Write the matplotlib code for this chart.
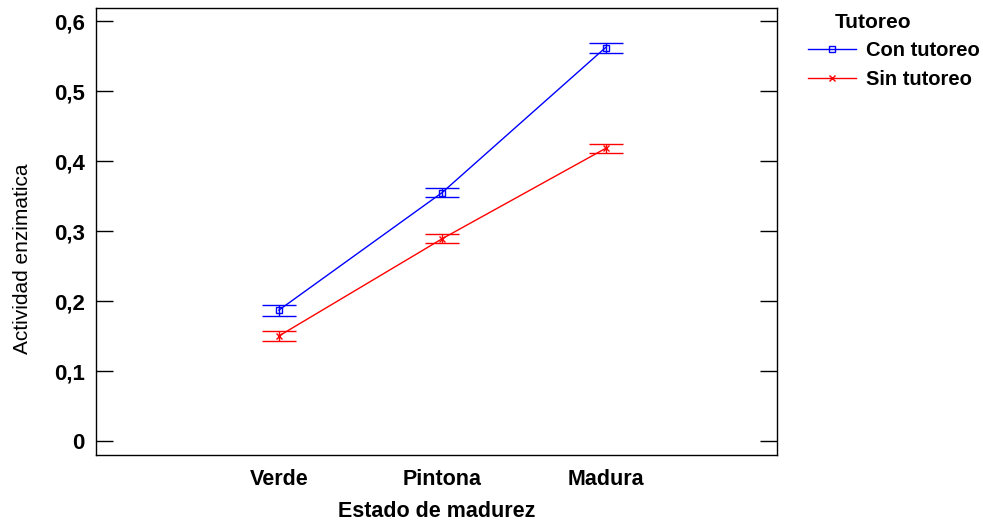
import matplotlib
matplotlib.use("Agg")
import matplotlib.pyplot as plt
from matplotlib.lines import Line2D
from matplotlib import font_manager

names = {f.name for f in font_manager.fontManager.ttflist}
narrow = "Liberation Sans Narrow" if "Liberation Sans Narrow" in names else "Liberation Sans"
plt.rcParams['font.family'] = [narrow, 'DejaVu Sans']

categories = ["Verde", "Pintona", "Madura"]
con_vals = [0.187, 0.355, 0.562]
con_err = [0.008, 0.007, 0.007]
sin_vals = [0.150, 0.289, 0.418]
sin_err = [0.0065, 0.0065, 0.0065]
yticks = [0, 0.1, 0.2, 0.3, 0.4, 0.5, 0.6]
ytick_labels = ["0", "0,1", "0,2", "0,3", "0,4", "0,5", "0,6"]

fig = plt.figure(figsize=(9.83, 5.22), dpi=100)
ax = fig.add_axes([96/983, 1-455/522, (777-96)/983, (455-8)/522])

x = [1, 2, 3]
ax.errorbar(x, con_vals, yerr=con_err, color="#0000ff", lw=1.0, marker="s", ms=4,
            mfc="none", mec="#0000ff", capsize=12, elinewidth=1.0, capthick=1.0)
ax.errorbar(x, sin_vals, yerr=sin_err, color="#ff0000", lw=1.0, marker="x", ms=5,
            capsize=12, elinewidth=1.0, capthick=1.0)

ax.set_xlim(-0.12, 4.05)
ax.set_ylim(-0.02, 0.6186)
ax.set_xticks(x)
ax.set_xticklabels(categories, fontsize=15.5, fontweight="bold")
ax.set_yticks(yticks)
ax.set_yticklabels(ytick_labels, fontsize=16, fontweight="bold")
ax.tick_params(axis="y", direction="in", length=12, width=1, left=True, right=True, pad=8)
ax.tick_params(axis="x", length=0, pad=10)
for s in ax.spines.values():
    s.set_linewidth(1.0)

ax.set_xlabel("Estado de madurez", fontsize=15.5, fontweight="bold", labelpad=8)
ax.set_ylabel("Actividad enzimatica", fontsize=15)
ax.yaxis.set_label_coords(-0.094, 0.44)

fig.text(835/983, 1-22/522, "Tutoreo", fontsize=15, fontweight="bold", ha="left", va="center")
handles = [Line2D([], [], color="#0000ff", lw=1.0, marker="s", ms=4, mfc="none", mec="#0000ff"),
           Line2D([], [], color="#ff0000", lw=1.0, marker="x", ms=5)]
leg = fig.legend(handles, ["Con tutoreo", "Sin tutoreo"], loc="upper left",
                 bbox_to_anchor=(808/983, 1-41/522), frameon=False,
                 prop={"size": 14.5, "weight": "bold"},
                 handlelength=2.4, handletextpad=0.5, labelspacing=0.5, borderaxespad=0.0,
                 borderpad=0.0)

fig.savefig("out.png", dpi=100)
